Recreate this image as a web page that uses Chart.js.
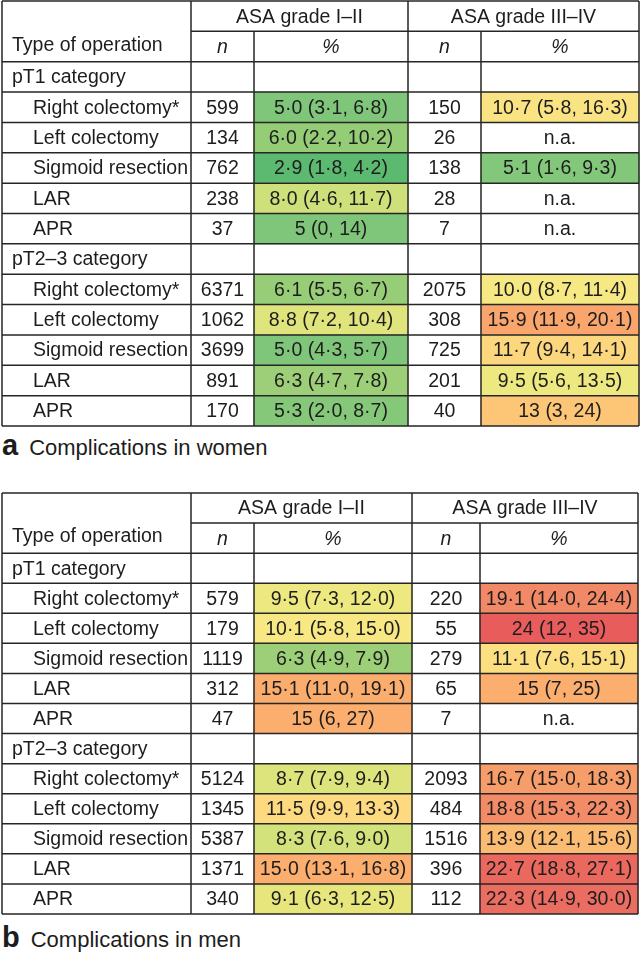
<!DOCTYPE html>
<html>
<head>
<meta charset="utf-8">
<title>Complications by ASA grade</title>
<script src="https://cdn.jsdelivr.net/npm/chart.js@4.4.1/dist/chart.umd.min.js"></script>
<style>
    html, body { margin: 0; padding: 0; background: #fff; }
    body { width: 640px; height: 956px; position: relative; overflow: hidden;
           font-family: 'Liberation Sans', Arial, sans-serif; color: #1d1d1d; }
    canvas { position: absolute; left: 0; }
    #tableWomen { top: 0; }
    #tableMen { top: 492px; }
    .caption { position: absolute; left: 2px; font-size: 22px; line-height: 30px; white-space: nowrap; }
    .caption b { font-size: 29px; margin-right: 11px; }
    #capWomen { top: 430px; }
    #capMen { top: 922px; }
</style>
</head>
<body>
<canvas id="tableWomen" width="640" height="428"></canvas>
<div class="caption" id="capWomen"><b>a</b>Complications in women</div>
<canvas id="tableMen" width="640" height="423"></canvas>
<div class="caption" id="capMen"><b>b</b>Complications in men</div>

<script>
// Labels
const OPERATIONS = ['Right colectomy*', 'Left colectomy', 'Sigmoid resection', 'LAR', 'APR'];
const CATEGORIES = ['pT1 category', 'pT2–3 category'];
const GRADES = ['ASA grade I–II', 'ASA grade III–IV'];
const HEADER = ['Type of operation', 'n', '%'];

// Women, ASA I–II (pT1 x5, then pT2–3 x5)
const W_N_LOW = [599, 134, 762, 238, 37, 6371, 1062, 3699, 891, 170];
const W_PCT_LOW = [5.0, 6.0, 2.9, 8.0, 5, 6.1, 8.8, 5.0, 6.3, 5.3];
const W_CI_LO_LOW = [3.1, 2.2, 1.8, 4.6, 0, 5.5, 7.2, 4.3, 4.7, 2.0];
const W_CI_HI_LOW = [6.8, 10.2, 4.2, 11.7, 14, 6.7, 10.4, 5.7, 7.8, 8.7];
const W_DP_LOW = [1, 1, 1, 1, 0, 1, 1, 1, 1, 1];

// Women, ASA III–IV
const W_N_HIGH = [150, 26, 138, 28, 7, 2075, 308, 725, 201, 40];
const W_PCT_HIGH = [10.7, null, 5.1, null, null, 10.0, 15.9, 11.7, 9.5, 13];
const W_CI_LO_HIGH = [5.8, null, 1.6, null, null, 8.7, 11.9, 9.4, 5.6, 3];
const W_CI_HI_HIGH = [16.3, null, 9.3, null, null, 11.4, 20.1, 14.1, 13.5, 24];
const W_DP_HIGH = [1, 1, 1, 1, 1, 1, 1, 1, 1, 0];

// Men, ASA I–II
const M_N_LOW = [579, 179, 1119, 312, 47, 5124, 1345, 5387, 1371, 340];
const M_PCT_LOW = [9.5, 10.1, 6.3, 15.1, 15, 8.7, 11.5, 8.3, 15.0, 9.1];
const M_CI_LO_LOW = [7.3, 5.8, 4.9, 11.0, 6, 7.9, 9.9, 7.6, 13.1, 6.3];
const M_CI_HI_LOW = [12.0, 15.0, 7.9, 19.1, 27, 9.4, 13.3, 9.0, 16.8, 12.5];
const M_DP_LOW = [1, 1, 1, 1, 0, 1, 1, 1, 1, 1];

// Men, ASA III–IV
const M_N_HIGH = [220, 55, 279, 65, 7, 2093, 484, 1516, 396, 112];
const M_PCT_HIGH = [19.1, 24, 11.1, 15, null, 16.7, 18.8, 13.9, 22.7, 22.3];
const M_CI_LO_HIGH = [14.0, 12, 7.6, 7, null, 15.0, 15.3, 12.1, 18.8, 14.9];
const M_CI_HI_HIGH = [24.4, 35, 15.1, 25, null, 18.3, 22.3, 15.6, 27.1, 30.0];
const M_DP_HIGH = [1, 0, 1, 0, 1, 1, 1, 1, 1, 1];

// Layout: column edges in table units (label | n | % | n | %)
const EDGES_WOMEN = [2, 191, 254, 408, 481, 639];
const EDGES_MEN = [2, 191, 254, 412, 480, 638];

// Heat scale for the % cells
const HEAT_STOPS = [
    [3, [91, 185, 112]],
    [5, [128, 198, 122]],
    [6.5, [160, 208, 118]],
    [8, [205, 224, 122]],
    [9, [228, 230, 124]],
    [10, [246, 233, 132]],
    [11, [252, 224, 129]],
    [12, [253, 211, 124]],
    [13, [253, 197, 118]],
    [15, [251, 174, 109]],
    [17, [246, 154, 106]],
    [19, [241, 137, 102]],
    [22.5, [235, 106, 96]],
    [24, [232, 92, 92]],
];

const FONT = '"Liberation Sans", Arial, sans-serif';
const TEXT = '#1d1d1d';
const RULE = '#262626';

function heat(v) {
    if (v <= HEAT_STOPS[0][0]) return 'rgb(' + HEAT_STOPS[0][1].join(',') + ')';
    for (let i = 1; i < HEAT_STOPS.length; i++) {
        const [v1, c1] = HEAT_STOPS[i];
        const [v0, c0] = HEAT_STOPS[i - 1];
        if (v <= v1) {
            const t = (v - v0) / (v1 - v0);
            return 'rgb(' + c0.map((c, k) => Math.round(c + (c1[k] - c) * t)).join(',') + ')';
        }
    }
    return 'rgb(' + HEAT_STOPS[HEAT_STOPS.length - 1][1].join(',') + ')';
}

function fmt(v, dp) {
    return v.toFixed(dp).replace('.', '·');
}

function cellText(p, lo, hi, dp) {
    if (p == null) return 'n.a.';
    return fmt(p, dp) + ' (' + fmt(lo, dp) + ', ' + fmt(hi, dp) + ')';
}

// 14 rows: 2 header rows, then category + 5 operations, twice
function buildRows(nL, pL, loL, hiL, dpL, nH, pH, loH, hiH, dpH) {
    const rows = [{ kind: 'head0' }, { kind: 'head1' }];
    let idx = 0;
    CATEGORIES.forEach(cat => {
        rows.push({ kind: 'cat', label: cat });
        OPERATIONS.forEach(op => {
            rows.push({
                kind: 'op', label: op,
                n1: nL[idx], v1: pL[idx], t1: cellText(pL[idx], loL[idx], hiL[idx], dpL[idx]),
                n2: nH[idx], v2: pH[idx], t2: cellText(pH[idx], loH[idx], hiH[idx], dpH[idx]),
            });
            idx++;
        });
    });
    return rows;
}

const tablePlugin = {
    id: 'tableText',
    afterDatasetsDraw(chart) {
        const { ctx } = chart;
        const xs = chart.scales.x;
        const ys = chart.scales.y;
        const edges = chart.options.plugins.tableText.edges;
        const rows = chart.options.plugins.tableText.rows;
        const ex = edges.map(e => xs.getPixelForValue(e));
        const rowEdge = b => ys.getPixelForValue(b - 0.5);
        const mid = (a, b) => (ex[a] + ex[b]) / 2;

        ctx.save();
        // rules
        ctx.strokeStyle = RULE;
        ctx.lineWidth = 1.5;
        ctx.beginPath();
        for (let b = 0; b <= rows.length; b++) {
            const y = rowEdge(b);
            ctx.moveTo(b === 1 ? ex[1] : ex[0], y);
            ctx.lineTo(ex[5], y);
        }
        [0, 1, 3, 5].forEach(k => {
            ctx.moveTo(ex[k], rowEdge(0));
            ctx.lineTo(ex[k], rowEdge(rows.length));
        });
        [2, 4].forEach(k => {
            ctx.moveTo(ex[k], rowEdge(1));
            ctx.lineTo(ex[k], rowEdge(rows.length));
        });
        ctx.stroke();

        // text
        ctx.fillStyle = TEXT;
        ctx.textBaseline = 'middle';
        const plain = '19.5px ' + FONT;
        const italic = 'italic 19.5px ' + FONT;
        rows.forEach((r, i) => {
            const y = ys.getPixelForValue(i) + 1;
            ctx.font = plain;
            if (r.kind === 'head0') {
                ctx.textAlign = 'center';
                ctx.fillText(GRADES[0], mid(1, 3), y);
                ctx.fillText(GRADES[1], mid(3, 5), y);
            } else if (r.kind === 'head1') {
                ctx.textAlign = 'left';
                ctx.fillText(HEADER[0], ex[0] + 10, y - 2);
                ctx.textAlign = 'center';
                ctx.font = italic;
                ctx.fillText(HEADER[1], mid(1, 2), y);
                ctx.fillText(HEADER[2], mid(2, 3), y);
                ctx.fillText(HEADER[1], mid(3, 4), y);
                ctx.fillText(HEADER[2], mid(4, 5), y);
            } else if (r.kind === 'cat') {
                ctx.textAlign = 'left';
                ctx.fillText(r.label, ex[0] + 10, y);
            } else {
                ctx.textAlign = 'left';
                ctx.fillText(r.label, ex[0] + 31, y);
                ctx.textAlign = 'center';
                ctx.fillText(String(r.n1), mid(1, 2), y);
                ctx.fillText(r.t1, mid(2, 3), y);
                ctx.fillText(String(r.n2), mid(3, 4), y);
                ctx.fillText(r.t2, mid(4, 5), y);
            }
        });
        ctx.restore();
    },
};

function drawTable(canvasId, edges, rows, padding) {
    const fill = (col, key) => rows.map(r => (r.kind === 'op' && r[key] != null) ? [edges[col], edges[col + 1]] : null);
    const colors = key => rows.map(r => (r.kind === 'op' && r[key] != null) ? heat(r[key]) : 'rgba(0,0,0,0)');

    new Chart(document.getElementById(canvasId), {
        type: 'bar',
        data: {
            labels: rows.map((r, i) => 'row' + i),
            datasets: [
                { data: fill(2, 'v1'), backgroundColor: colors('v1'), grouped: false, borderWidth: 0 },
                { data: fill(4, 'v2'), backgroundColor: colors('v2'), grouped: false, borderWidth: 0 },
            ],
        },
        options: {
            indexAxis: 'y',
            responsive: false,
            animation: false,
            events: [],
            devicePixelRatio: 1,
            layout: { padding: padding },
            datasets: { bar: { categoryPercentage: 1, barPercentage: 1 } },
            plugins: {
                legend: { display: false },
                tooltip: { enabled: false },
                tableText: { edges: edges, rows: rows },
            },
            scales: {
                x: { type: 'linear', min: 0, max: 640, display: false },
                y: { type: 'category', display: false, offset: true },
            },
        },
        plugins: [tablePlugin],
    });
}

drawTable('tableWomen', EDGES_WOMEN,
    buildRows(W_N_LOW, W_PCT_LOW, W_CI_LO_LOW, W_CI_HI_LOW, W_DP_LOW,
              W_N_HIGH, W_PCT_HIGH, W_CI_LO_HIGH, W_CI_HI_HIGH, W_DP_HIGH),
    { top: 1, bottom: 2, left: 0, right: 0 });

drawTable('tableMen', EDGES_MEN,
    buildRows(M_N_LOW, M_PCT_LOW, M_CI_LO_LOW, M_CI_HI_LOW, M_DP_LOW,
              M_N_HIGH, M_PCT_HIGH, M_CI_LO_HIGH, M_CI_HI_HIGH, M_DP_HIGH),
    { top: 1, bottom: 1, left: 0, right: 0 });
</script>
</body>
</html>
